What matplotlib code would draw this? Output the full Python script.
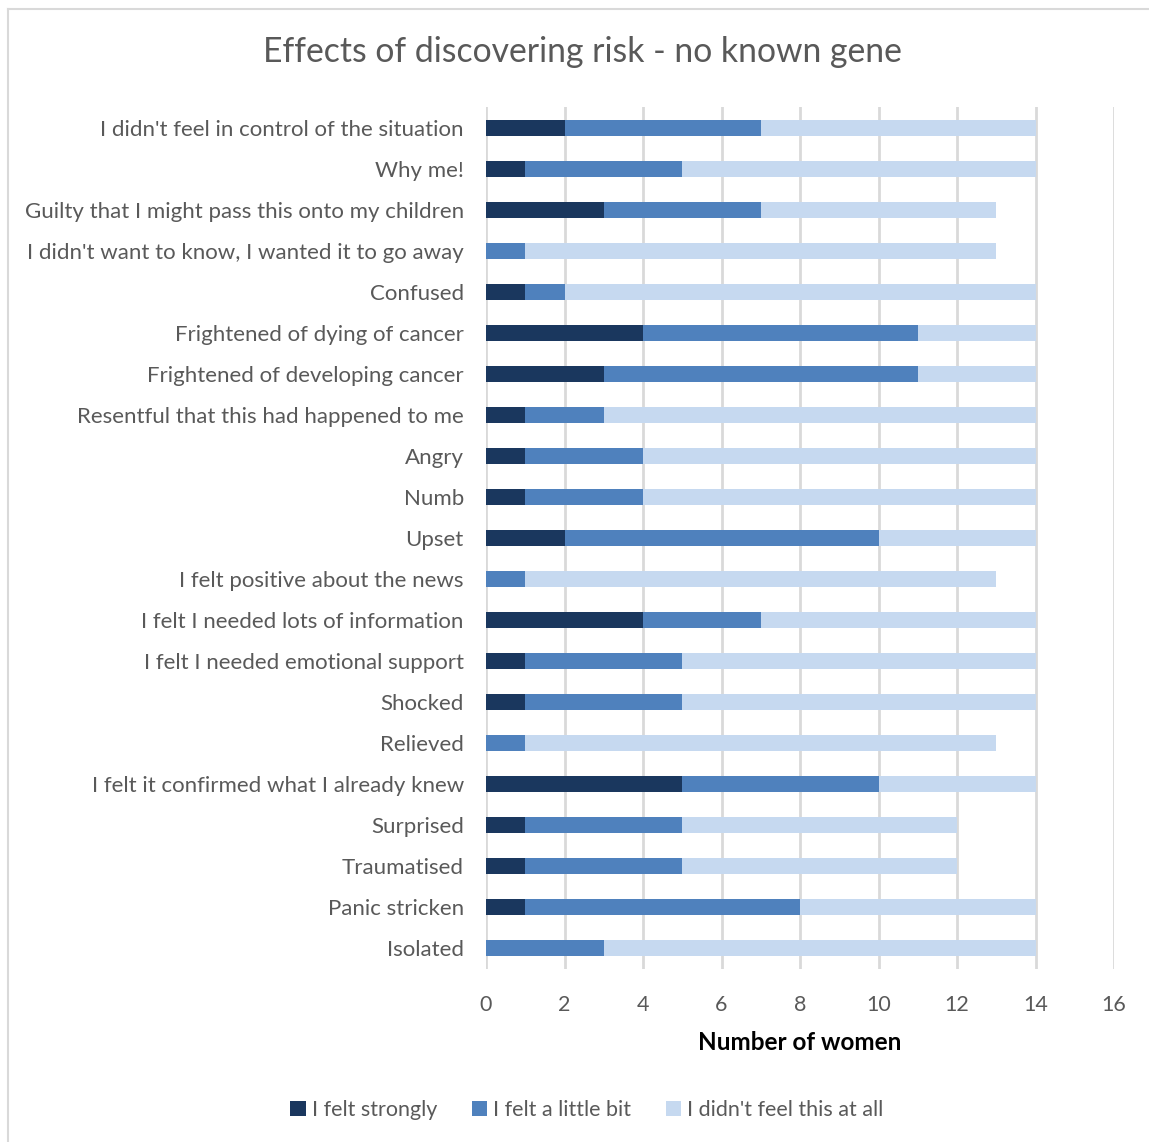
import matplotlib
matplotlib.use("Agg")
import matplotlib.pyplot as plt
from matplotlib.lines import Line2D
import numpy as np

plt.rcParams['font.family'] = ['Lato', 'DejaVu Sans']

categories = [
    "I didn't feel in control of the situation",
    "Why me!",
    "Guilty that I might pass this onto my children",
    "I didn't want to know, I wanted it to go away",
    "Confused",
    "Frightened of dying of cancer",
    "Frightened of developing cancer",
    "Resentful that this had happened to me",
    "Angry",
    "Numb",
    "Upset",
    "I felt positive about the news",
    "I felt I needed lots of information",
    "I felt I needed emotional support",
    "Shocked",
    "Relieved",
    "I felt it confirmed what I already knew",
    "Surprised",
    "Traumatised",
    "Panic stricken",
    "Isolated",
]
felt_strongly = [2, 1, 3, 0, 1, 4, 3, 1, 1, 1, 2, 0, 4, 1, 1, 0, 5, 1, 1, 1, 0]
felt_little = [5, 4, 4, 1, 1, 7, 8, 2, 3, 3, 8, 1, 3, 4, 4, 1, 5, 4, 4, 7, 3]
not_at_all = [7, 9, 6, 12, 12, 3, 3, 11, 10, 10, 4, 12, 7, 9, 9, 12, 4, 7, 7, 6, 11]
series_names = ["I felt strongly", "I felt a little bit", "I didn't feel this at all"]
colors = ["#1a375e", "#4f81bd", "#c6d9f0"]
x_ticks = [0, 2, 4, 6, 8, 10, 12, 14, 16]

W, H = 1149, 1142
fig = plt.figure(figsize=(W / 100, H / 100), dpi=100)
ax = fig.add_axes([486 / W, 1 - 969 / H, 628 / W, (969 - 107) / H])

y = np.arange(len(categories))
left = np.zeros(len(categories))
bars = []
for vals, name, c in zip([felt_strongly, felt_little, not_at_all], series_names, colors):
    b = ax.barh(y, vals, left=left, height=0.39, color=c, label=name, zorder=3)
    bars.append(b)
    left = left + np.array(vals)

ax.set_ylim(len(categories) - 0.5, -0.5)
ax.set_xlim(0, 16)
ax.set_xticks(x_ticks)
ax.set_yticks(y)
ax.set_yticklabels(categories)
ax.grid(axis='x', color='#d9d9d9', linewidth=2, zorder=0)
for s in ax.spines.values():
    s.set_visible(False)
ax.tick_params(axis='both', length=0, colors='#595959')
ax.tick_params(axis='y', labelsize=16, pad=16)
ax.tick_params(axis='x', labelsize=15.5, pad=19)
ax.set_xlabel("Number of women", fontsize=17.5, fontweight='bold', color='black', labelpad=11)

fig.text(582 / W, 1 - 52 / H, "Effects of discovering risk - no known gene",
         ha='center', va='center', fontsize=24.3, color='#595959')

leg = fig.legend(handles=bars, labels=series_names, loc='center', ncol=3,
                 bbox_to_anchor=(587 / W, 1 - 1110 / H), frameon=False,
                 fontsize=15.5, handlelength=0.7, handleheight=0.7,
                 handletextpad=0.3, columnspacing=1.6)
for t in leg.get_texts():
    t.set_color('#595959')

# chart-area border (top and left edges)
fig.add_artist(Line2D([8 / W, 1], [1 - 8.5 / H, 1 - 8.5 / H], color='#d9d9d9', linewidth=1.5))
fig.add_artist(Line2D([7.5 / W, 7.5 / W], [0, 1 - 8.5 / H], color='#d9d9d9', linewidth=1.5))

fig.savefig("out.png", dpi=100, facecolor='white')
